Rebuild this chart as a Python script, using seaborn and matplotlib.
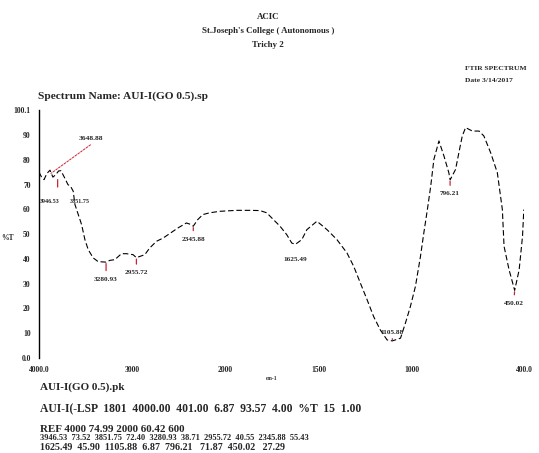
import numpy as np
import pandas as pd
import matplotlib
matplotlib.use("Agg")
import matplotlib.pyplot as plt
import seaborn as sns

# ---------------- data ----------------
wavenumber = [4000, 3975, 3946, 3915, 3882, 3851, 3820, 3790, 3765, 3722, 3690, 3660,
              3633, 3615, 3579, 3543, 3508, 3472, 3419, 3366, 3281, 3241, 3187, 3116,
              3062, 2991, 2956, 2866, 2813, 2741, 2670, 2580, 2510, 2420, 2380, 2346,
              2297, 2243, 2171, 2064, 1940, 1869, 1815, 1779, 1744, 1708, 1672, 1645,
              1625, 1591, 1564, 1510, 1456, 1403, 1349, 1313, 1277, 1241, 1206, 1170,
              1134, 1106, 1062, 1036, 1009, 982, 955, 937, 918, 900, 883, 856, 829,
              803, 796, 767, 749, 731, 713, 677, 641, 615, 579, 543, 516, 507, 480,
              450, 426, 408, 401]
transmittance = [75.0, 73.2, 72.0, 74.5, 75.8, 73.0, 74.0, 75.5, 75.6, 72.5, 70.0, 69.2,
                 67.3, 62.0, 57.9, 53.8, 47.8, 43.7, 40.4, 38.9, 38.7, 39.4, 39.7, 42.1,
                 42.1, 41.7, 40.5, 41.7, 44.4, 47.1, 48.4, 50.7, 52.5, 54.5, 54.0, 53.2,
                 55.9, 57.9, 58.6, 59.2, 59.6, 59.6, 59.5, 58.6, 55.9, 53.2, 49.8, 46.4,
                 45.9, 47.8, 51.8, 55.2, 51.8, 47.8, 42.4, 37.0, 30.2, 23.5, 16.7, 11.3,
                 7.3, 6.9, 8.0, 14.0, 20.8, 28.9, 41.0, 50.5, 59.9, 69.4, 80.2, 87.6, 81.5,
                 74.8, 71.9, 76.1, 82.9, 89.6, 93.0, 91.6, 91.6, 89.6, 82.9, 74.8, 59.9, 45.1, 35.6,
                 27.3, 35.6, 49.1, 59.9]

peak_wn = [3946.53, 3851.75, 3280.93, 2955.72, 2345.88, 1625.49, 1105.88, 796.21, 450.02]
peak_T = [72.0, 73.0, 38.7, 40.5, 53.2, 45.9, 6.9, 71.9, 27.3]
leader_label = "3648.88"

x_ticks = [4000, 3000, 2000, 1500, 1000, 400]
x_ticklabels = ["4000.0", "3000", "2000", "1500", "1000", "400.0"]
y_ticks = [0, 10, 20, 30, 40, 50, 60, 70, 80, 90, 100.1]
y_ticklabels = ["0.0", "10", "20", "30", "40", "50", "60", "70", "80", "90", "100.1"]

header_lines = ["ACIC", "St.Joseph's College ( Autonomous )", "Trichy 2"]
right_lines = ["FTIR SPECTRUM", "Date 3/14/2017"]
spectrum_name = "Spectrum Name: AUI-I(GO 0.5).sp"
footer_lines = ["AUI-I(GO 0.5).pk",
                "AUI-I(-LSP  1801  4000.00  401.00  6.87  93.57  4.00  %T  15  1.00",
                "REF 4000 74.99 2000 60.42 600"]
footer_peaks1 = "3946.53  73.52  3851.75  72.40  3280.93  38.71  2955.72  40.55  2345.88  55.43"
footer_peaks2 = "1625.49  45.90  1105.88  6.87  796.21   71.87  450.02   27.29"

# ---------------- drawing ----------------
sns.set_style("white")
plt.rcParams["font.family"] = ["Liberation Serif", "DejaVu Serif"]
plt.rcParams["font.weight"] = "bold"

W, H = 539, 453
fig = plt.figure(figsize=(W / 100, H / 100), dpi=100)
ax = fig.add_axes([39 / W, (H - 358) / H, 485 / W, 248 / H])


def fwd(x):
    x = np.asarray(x, dtype=float)
    return np.where(x >= 2000, x / 1000.0, (x - 1000.0) / 500.0)


def inv(y):
    y = np.asarray(y, dtype=float)
    return np.where(y >= 2, y * 1000.0, y * 500.0 + 1000.0)


ax.set_xscale("function", functions=(fwd, inv))

df = pd.DataFrame({"wn": wavenumber, "T": transmittance})
sns.lineplot(data=df, x="wn", y="T", ax=ax, color="black", linewidth=0.8,
             estimator=None, sort=False, linestyle=(0, (5, 2.5)))

ax.set_xlim(4000, 400)
ax.set_ylim(0, 100.1)
ax.set_xticks(x_ticks)
ax.set_xticklabels(x_ticklabels)
ax.set_yticks(y_ticks)
ax.set_yticklabels(y_ticklabels)
ax.tick_params(axis="both", labelsize=5.5, length=2, width=0.6, pad=4)
ax.tick_params(axis="x", length=1.5)
for s in ["top", "right", "bottom"]:
    ax.spines[s].set_visible(False)
ax.spines["left"].set_linewidth(1.0)
ax.spines["left"].set_color("black")
ax.set_xlabel("")
ax.set_ylabel("")

# peak annotations (offsets in pixels, size)
offsets = {3946.53: (6, -22, False, 4.4), 3851.75: (27, -24, False, 4.4),
           3280.93: (0, -17, True, 5.2), 2955.72: (0, -15, True, 5.2), 2345.88: (0, -13, True, 5.2),
           1625.49: (0, -15, False, 5.2), 1105.88: (0, 8, True, 5.2), 796.21: (0, -14, True, 5.2),
           450.02: (-1, -13, True, 5.2)}
for wn, t in zip(peak_wn, peak_T):
    dx, dy, line, fs = offsets[wn]
    ap = dict(arrowstyle="-", color="#cc2233", lw=0.9, shrinkA=2, shrinkB=1) if line else None
    ax.annotate(f"{wn:.2f}", xy=(wn, t), xytext=(dx, dy), textcoords="offset pixels",
                ha="center", va="center", fontsize=fs, fontweight="bold", arrowprops=ap)

# leader-line label
ax.annotate(leader_label, xy=(3872, 74.5), xytext=(3440, 88.7), textcoords="data",
            ha="center", va="center", fontsize=5.4, fontweight="bold",
            arrowprops=dict(arrowstyle="-", color="#cc2233", lw=0.7, ls=(0, (2, 1.5)),
                            shrinkA=1, shrinkB=0, relpos=(0.7, 0.0)))
# small red tick under the first band
ax.annotate("", xy=(3800, 72.0), xytext=(3800, 69.0), textcoords="data",
            arrowprops=dict(arrowstyle="-", color="#cc2233", lw=0.9, shrinkA=0, shrinkB=0))

# axis titles
fig.text(8 / W, 1 - 238 / H, "%T", fontsize=5.5, fontweight="bold", ha="center", va="center")
fig.text(272 / W, 1 - 379 / H, "cm-1", fontsize=4, fontweight="bold", ha="center", va="center")

# header
for i, line in enumerate(header_lines):
    fig.text(268 / W, 1 - (17 + 14 * i) / H, line, fontsize=6.4, fontweight="bold",
             ha="center", va="center")
for i, line in enumerate(right_lines):
    fig.text(465 / W, 1 - (68 + 12 * i) / H, line, fontsize=5.4, fontweight="bold",
             ha="left", va="center")
fig.text(38 / W, 1 - 96 / H, spectrum_name, fontsize=8.2, fontweight="bold",
         ha="left", va="center")

# footer
fig.text(40 / W, 1 - 387 / H, footer_lines[0], fontsize=8, fontweight="bold", ha="left", va="center")
fig.text(40 / W, 1 - 409 / H, footer_lines[1], fontsize=8.4, fontweight="bold", ha="left", va="center")
fig.text(40 / W, 1 - 429 / H, footer_lines[2], fontsize=7.9, fontweight="bold", ha="left", va="center")
fig.text(40 / W, 1 - 438 / H, footer_peaks1, fontsize=6.0, fontweight="bold", ha="left", va="center")
fig.text(40 / W, 1 - 448 / H, footer_peaks2, fontsize=7.2, fontweight="bold", ha="left", va="center")

fig.savefig("out.png", dpi=100, facecolor="white")
